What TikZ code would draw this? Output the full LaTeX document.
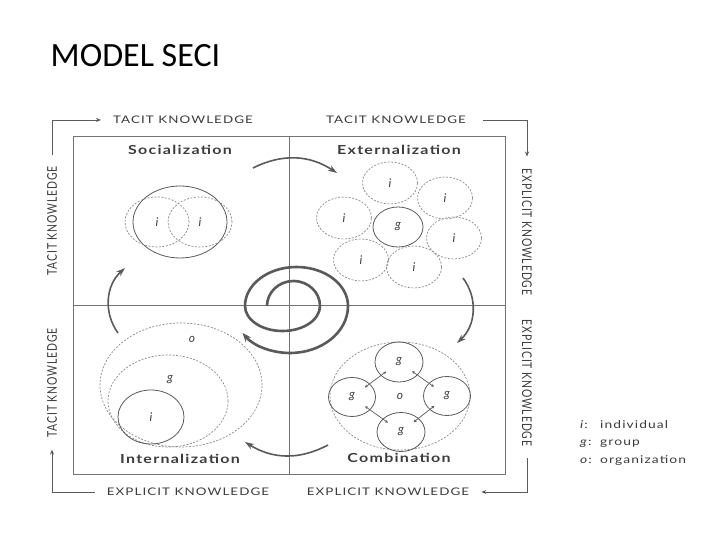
\documentclass[tikz,border=0pt]{standalone}
\usepackage{fontspec}
\setmainfont{Carlito}
\newfontfamily\gill[LetterSpace=8]{Lato}
\usetikzlibrary{arrows.meta,positioning,shapes.geometric,calc}
\definecolor{inkgray}{HTML}{3C3C3C}
\definecolor{linegray}{HTML}{5A5A5A}
\definecolor{dashgray}{HTML}{8A8A8A}
\definecolor{framegray}{HTML}{747474}

\begin{document}
\begin{tikzpicture}[
    x=1pt, y=1pt,
    axislab/.style={font=\gill\fontsize{13.4}{14}\selectfont, text=inkgray, inner sep=0pt},
    hlab/.style={axislab, yscale=0.78},
    uplab/.style={axislab, rotate=90, xscale=0.78},
    downlab/.style={axislab, rotate=-90, xscale=0.78},
    quadtitle/.style={font=\gill\bfseries\fontsize{16}{18}\selectfont, text=inkgray, yscale=0.78, inner sep=0pt},
    frame/.style={draw=framegray, line width=1pt},
    solidring/.style={ellipse, draw=linegray, line width=0.8pt, inner sep=0pt, font=\gill\itshape\fontsize{12}{12}\selectfont, text=inkgray},
    dashring/.style={solidring, draw=dashgray, dash pattern=on 2pt off 1.5pt, line width=0.7pt},
    member/.style={font=\gill\itshape\fontsize{12}{12}\selectfont, text=inkgray, inner sep=0pt},
    turn/.style={-{Stealth[length=9pt,width=6pt]}, line width=1.6pt, draw=linegray, bend left=30},
    axisarrow/.style={-{Stealth[length=5pt,width=4pt]}, line width=0.8pt, draw=linegray},
    swap/.style={{Stealth[length=3pt,width=3pt]}-{Stealth[length=3pt,width=3pt]}, line width=0.7pt, draw=linegray, shorten <=16pt, shorten >=16pt},
    legend/.style={font=\gill\fontsize{13.8}{23}\selectfont, text=inkgray, align=left, yscale=0.78, inner sep=0pt}
]
\fill[white] (0,0) rectangle (720,540);
\useasboundingbox (0,0) rectangle (720,540);

\node[font=\fontsize{34}{40}\selectfont, anchor=base west, inner sep=0pt] (title) at (50.5,473) {MODEL SECI};

% the four quadrants
\node[frame, minimum width=432pt, minimum height=338pt] (grid) at (289,234) {};
\draw[frame] (grid.north) -- (grid.south);
\draw[frame] (grid.west) -- (grid.east);

% labels round the frame
\node[hlab] (tacitA) at (183,420) {TACIT KNOWLEDGE};
\node[hlab] (tacitB) at (396,420) {TACIT KNOWLEDGE};
\node[downlab] (explicitA) at (527,308) {EXPLICIT KNOWLEDGE};
\node[downlab] (explicitB) at (527,157) {EXPLICIT KNOWLEDGE};
\node[hlab] (explicitC) at (388,48) {EXPLICIT KNOWLEDGE};
\node[hlab] (explicitD) at (188,48) {EXPLICIT KNOWLEDGE};
\node[uplab] (tacitC) at (52,157) {TACIT KNOWLEDGE};
\node[uplab] (tacitD) at (52,319) {TACIT KNOWLEDGE};

\draw[axisarrow, shorten <=11pt, shorten >=12pt] (tacitD.east) |- (tacitA.west);
\draw[axisarrow, shorten <=17pt, shorten >=12pt] (tacitB.east) -| (explicitA.west);
\draw[axisarrow, shorten <=12pt, shorten >=12pt] (explicitB.east) |- (explicitC.east);
\draw[axisarrow, shorten <=12pt, shorten >=12pt] (explicitD.west) -| (tacitC.west);

% quadrant titles
\node[quadtitle] (soc) at (180,390) {Socialization};
\node[quadtitle] (ext) at (399,390) {Externalization};
\node[quadtitle] (intl) at (180,81) {Internalization};
\node[quadtitle] (comb) at (399,82) {Combination};

% socialization
\node[solidring, minimum width=94pt, minimum height=72pt] (pair) at (180,318) {};
\node[dashring, minimum width=64pt, minimum height=50pt] (selfA) at (157,318) {i};
\node[dashring, minimum width=64pt, minimum height=50pt] (selfB) at (200,318) {i};

% externalization
\node[solidring, minimum width=50pt, minimum height=40pt] (grpE) at (398,313) {g};
\node[dashring, minimum width=55pt, minimum height=42pt] (indE1) at (390,357) {i};
\node[dashring, minimum width=55pt, minimum height=42pt] (indE2) at (445,342) {i};
\node[dashring, minimum width=55pt, minimum height=42pt] (indE3) at (454,302) {i};
\node[dashring, minimum width=55pt, minimum height=42pt] (indE4) at (414,273) {i};
\node[dashring, minimum width=55pt, minimum height=42pt] (indE5) at (361,280) {i};
\node[dashring, minimum width=55pt, minimum height=42pt] (indE6) at (344,322) {i};

% internalization
\node[dashring, minimum width=162pt, minimum height=124pt] (orgI) at (181,155) {};
\node[dashring, minimum width=120pt, minimum height=92pt] (grpI) at (168,139) {};
\node[solidring, minimum width=66pt, minimum height=54pt] (indI) at (151,123) {i};
\node[member] (orgItxt) at (192,201) {o};
\node[member] (grpItxt) at (170,160) {g};

% combination
\node[dashring, minimum width=140pt, minimum height=108pt] (orgC) at (400,144) {o};
\node[solidring, minimum width=48pt, minimum height=40pt] (gtop) at (399,178) {g};
\node[solidring, minimum width=47pt, minimum height=39pt] (gleft) at (352,143) {g};
\node[solidring, minimum width=47pt, minimum height=39pt] (gright) at (447,144) {g};
\node[solidring, minimum width=48pt, minimum height=39pt] (gbot) at (401,108) {g};
\draw[swap] (gtop.center) -- (gleft.center);
\draw[swap] (gtop.center) -- (gright.center);
\draw[swap] (gleft.center) -- (gbot.center);
\draw[swap] (gright.center) -- (gbot.center);

% the cycle between quadrants
\coordinate (socout) at (253,372);
\coordinate (extin) at (337,367);
\coordinate (extout) at (463,262);
\coordinate (combin) at (457,197);
\coordinate (combout) at (328,95);
\coordinate (intin) at (245,98);
\coordinate (intout) at (118,207);
\coordinate (socin) at (125,272);
\draw[turn] (socout) to (extin);
\draw[turn, bend left=42] (extout) to (combin);
\draw[turn] (combout) to (intin);
\draw[turn, bend left=42] (intout) to (socin);

% spiral, opening outwards
\coordinate (coil) at (267,234);
\draw[-{Stealth[length=9pt,width=7pt]}, line width=2.6pt, draw=linegray]
    (coil) arc[start angle=180, end angle=0, x radius=26.5, y radius=25]
    arc[start angle=0, end angle=-180, x radius=37.5, y radius=25]
    arc[start angle=180, end angle=0, x radius=51.5, y radius=39]
    arc[start angle=0, end angle=-145, x radius=58, y radius=47];

% legend
\node[legend, anchor=west] (key) at (580,97) {\makebox[20pt][l]{\textit{i}:}individual\\\makebox[20pt][l]{\textit{g}:}group\\\makebox[20pt][l]{\textit{o}:}organization};
\end{tikzpicture}
\end{document}
